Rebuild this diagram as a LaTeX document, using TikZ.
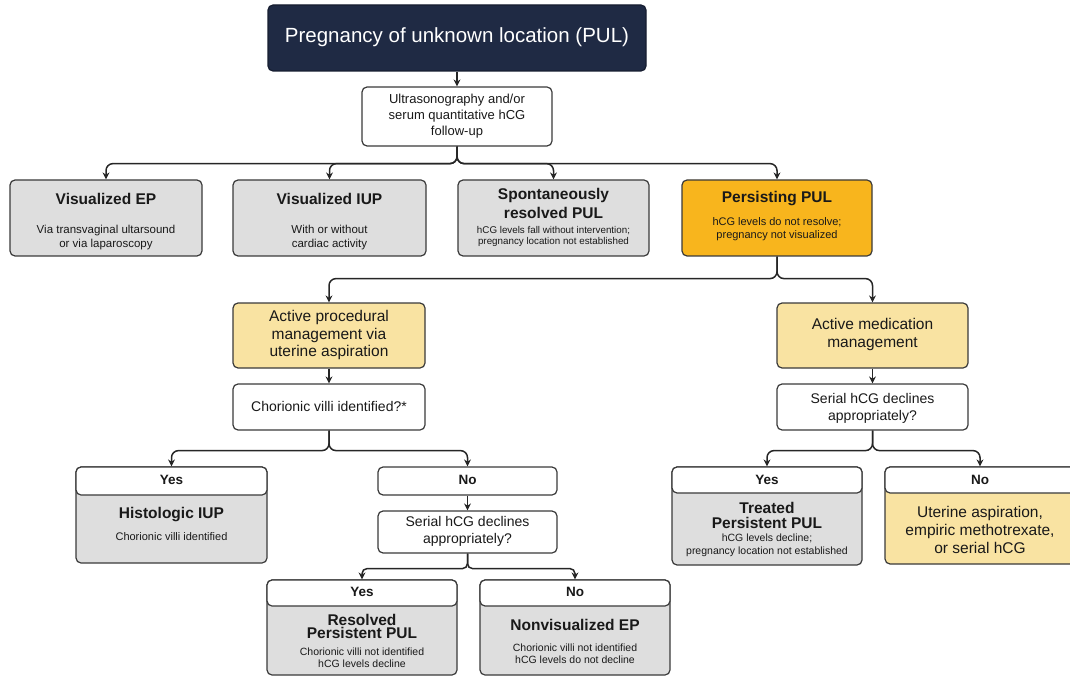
\documentclass[tikz,border=0pt]{standalone}
\usepackage{fontspec}
\setmainfont{Liberation Sans}
\usetikzlibrary{arrows.meta}
\definecolor{navy}{HTML}{1F2A44}
\definecolor{boxgray}{HTML}{DEDEDE}
\definecolor{pulorange}{HTML}{F8B51D}
\definecolor{lightyel}{HTML}{F9E3A2}
\definecolor{edgec}{HTML}{3A3A3A}
\newcommand{\fs}[2]{\fontsize{#1}{#2}\selectfont}
\begin{document}
\begin{tikzpicture}[x=1pt,y=-1pt,
  box/.style={draw=edgec, line width=1.2pt, rounded corners=5pt, inner sep=0pt},
  wbox/.style={box, fill=white},
  gbox/.style={box, fill=boxgray},
  ybox/.style={box, fill=lightyel},
  txt/.style={align=center, inner sep=0pt, text=black!90},
  ttl/.style={txt, font=\fs{15.5}{19}\bfseries},
  sub/.style={txt, font=\fs{11.5}{14}},
  conn/.style={draw=black!85, line width=1.5pt, rounded corners=7pt, -{Stealth[length=7pt,width=7pt]}}
]
\useasboundingbox (0,0) rectangle (1070,676);

% top
\node[box, fill=navy, draw=navy!70!black, minimum width=378pt, minimum height=66pt] (pul) at (457,38) {};
\node[txt, text=white, font=\fs{20.5}{22}] (pult) at (457,37) {Pregnancy of unknown location (PUL)};
\node[wbox, minimum width=190pt, minimum height=59pt] (us) at (457,116.5) {};
\node[txt, font=\fs{13}{16}] (ust) at (457,116) {Ultrasonography and/or\\serum quantitative hCG\\follow-up};

% row of four
\node[gbox, minimum width=192pt, minimum height=76pt] (vep) at (106,218) {};
\node[ttl] (vept) at (106,199) {Visualized EP};
\node[sub] (veps) at (106,238) {Via transvaginal ultarsound\\or via laparoscopy};

\node[gbox, minimum width=193pt, minimum height=76pt] (viup) at (329.5,218) {};
\node[ttl] (viupt) at (329.5,199) {Visualized IUP};
\node[sub] (viups) at (329.5,238) {With or without\\cardiac activity};

\node[gbox, minimum width=191pt, minimum height=76pt] (spr) at (553.5,218) {};
\node[ttl] (sprt) at (553.5,203) {Spontaneously\\resolved PUL};
\node[sub, font=\fs{9.8}{11}] (sprs) at (553.5,236) {hCG levels fall without intervention;\\pregnancy location not established};

\node[box, fill=pulorange, minimum width=190pt, minimum height=76pt] (ppul) at (777,218) {};
\node[ttl] (ppult) at (777,199) {Persisting PUL};
\node[sub, font=\fs{11}{12.5}] (ppuls) at (777,229) {hCG levels do not resolve;\\pregnancy not visualized};

% second level
\node[ybox, minimum width=192pt, minimum height=65pt] (apm) at (329,335.5) {};
\node[txt, font=\fs{15.5}{17.5}] (apmt) at (329,335) {Active procedural\\management via\\uterine aspiration};
\node[wbox, minimum width=192pt, minimum height=46pt] (cvi) at (329,407) {};
\node[txt, font=\fs{14}{16}] (cvit) at (329,406) {Chorionic villi identified?*};

\node[ybox, minimum width=191pt, minimum height=65pt] (amm) at (872.5,335.5) {};
\node[txt, font=\fs{15.5}{18}] (ammt) at (872.5,334) {Active medication\\management};
\node[wbox, minimum width=191pt, minimum height=46pt] (shr) at (872.5,407) {};
\node[txt, font=\fs{14}{17}] (shrt) at (872.5,408) {Serial hCG declines\\appropriately?};

% left yes
\node[gbox, minimum width=191pt, minimum height=96pt] (hiupbox) at (171.5,515) {};
\node[wbox, minimum width=191pt, minimum height=28pt] (yes1) at (171.5,481) {};
\node[txt, font=\fs{13.5}{15}\bfseries] (yes1t) at (171.5,480) {Yes};
\node[ttl] (hiupt) at (171.5,515) {Histologic IUP};
\node[sub, font=\fs{11}{13}] (hiups) at (171.5,537) {Chorionic villi identified};

% middle no
\node[wbox, minimum width=179pt, minimum height=28pt] (no1) at (467.5,481) {};
\node[txt, font=\fs{13.5}{15}\bfseries] (no1t) at (467.5,480) {No};
\node[wbox, minimum width=179pt, minimum height=42pt] (shm) at (467.5,532) {};
\node[txt, font=\fs{14}{17}] (shmt) at (467.5,531) {Serial hCG declines\\appropriately?};

% right yes / no
\node[gbox, minimum width=190pt, minimum height=98pt] (tpulbox) at (767,516) {};
\node[wbox, minimum width=190pt, minimum height=26pt] (yes2) at (767,480) {};
\node[txt, font=\fs{13.5}{15}\bfseries] (yes2t) at (767,480) {Yes};
\node[txt, font=\fs{15.5}{15}\bfseries] (tpult) at (767,515.5) {Treated\\Persistent PUL};
\node[sub, font=\fs{10.5}{12.5}] (tpuls) at (767,545.5) {hCG levels decline;\\pregnancy location not established};

\node[ybox, minimum width=190pt, minimum height=97pt] (altbox) at (980,515.5) {};
\node[wbox, minimum width=190pt, minimum height=26pt] (no2) at (980,480) {};
\node[txt, font=\fs{13.5}{15}\bfseries] (no2t) at (980,480) {No};
\node[txt, font=\fs{15.5}{18}] (altt) at (980,530) {Uterine aspiration,\\empiric methotrexate,\\or serial hCG};

% bottom yes / no
\node[gbox, minimum width=190pt, minimum height=95pt] (rpulbox) at (362,627.5) {};
\node[wbox, minimum width=190pt, minimum height=26pt] (yes3) at (362,593) {};
\node[txt, font=\fs{13.5}{15}\bfseries] (yes3t) at (362,592) {Yes};
\node[txt, font=\fs{15.5}{13.5}\bfseries] (rpult) at (362,626.5) {Resolved\\Persistent PUL};
\node[sub, font=\fs{10.5}{11.5}] (rpuls) at (362,657.5) {Chorionic villi not identified\\hCG levels decline};

\node[gbox, minimum width=190pt, minimum height=95pt] (nvepbox) at (575,627.5) {};
\node[wbox, minimum width=190pt, minimum height=26pt] (no3) at (575,593) {};
\node[txt, font=\fs{13.5}{15}\bfseries] (no3t) at (575,592) {No};
\node[ttl] (nvept) at (575,625) {Nonvisualized EP};
\node[sub, font=\fs{10.5}{12}] (nveps) at (575,654) {Chorionic villi not identified\\hCG levels do not decline};

% connectors
\draw[conn] (pul.south) -- (us.north);
\draw[conn] (us.south) -- ++(0,17) -| (vep.north);
\draw[conn] (us.south) -- ++(0,17) -| (viup.north);
\draw[conn] (us.south) -- ++(0,17) -| (spr.north);
\draw[conn] (us.south) -- ++(0,17) -| (ppul.north);
\draw[conn] (ppul.south) -- ++(0,22) -| (apm.north);
\draw[conn] (ppul.south) -- ++(0,22) -| (amm.north);
\draw[conn] (apm.south) -- (cvi.north);
\draw[conn] (amm.south) -- (shr.north);
\draw[conn] (cvi.south) -- ++(0,20) -| (yes1.north);
\draw[conn] (cvi.south) -- ++(0,20) -| (no1.north);
\draw[conn] (no1.south) -- (shm.north);
\draw[conn, rounded corners=5pt] (shm.south) -- ++(0,15) -| (yes3.north);
\draw[conn, rounded corners=5pt] (shm.south) -- ++(0,15) -| (no3.north);
\draw[conn] (shr.south) -- ++(0,20) -| (yes2.north);
\draw[conn] (shr.south) -- ++(0,20) -| (no2.north);
\end{tikzpicture}
\end{document}
